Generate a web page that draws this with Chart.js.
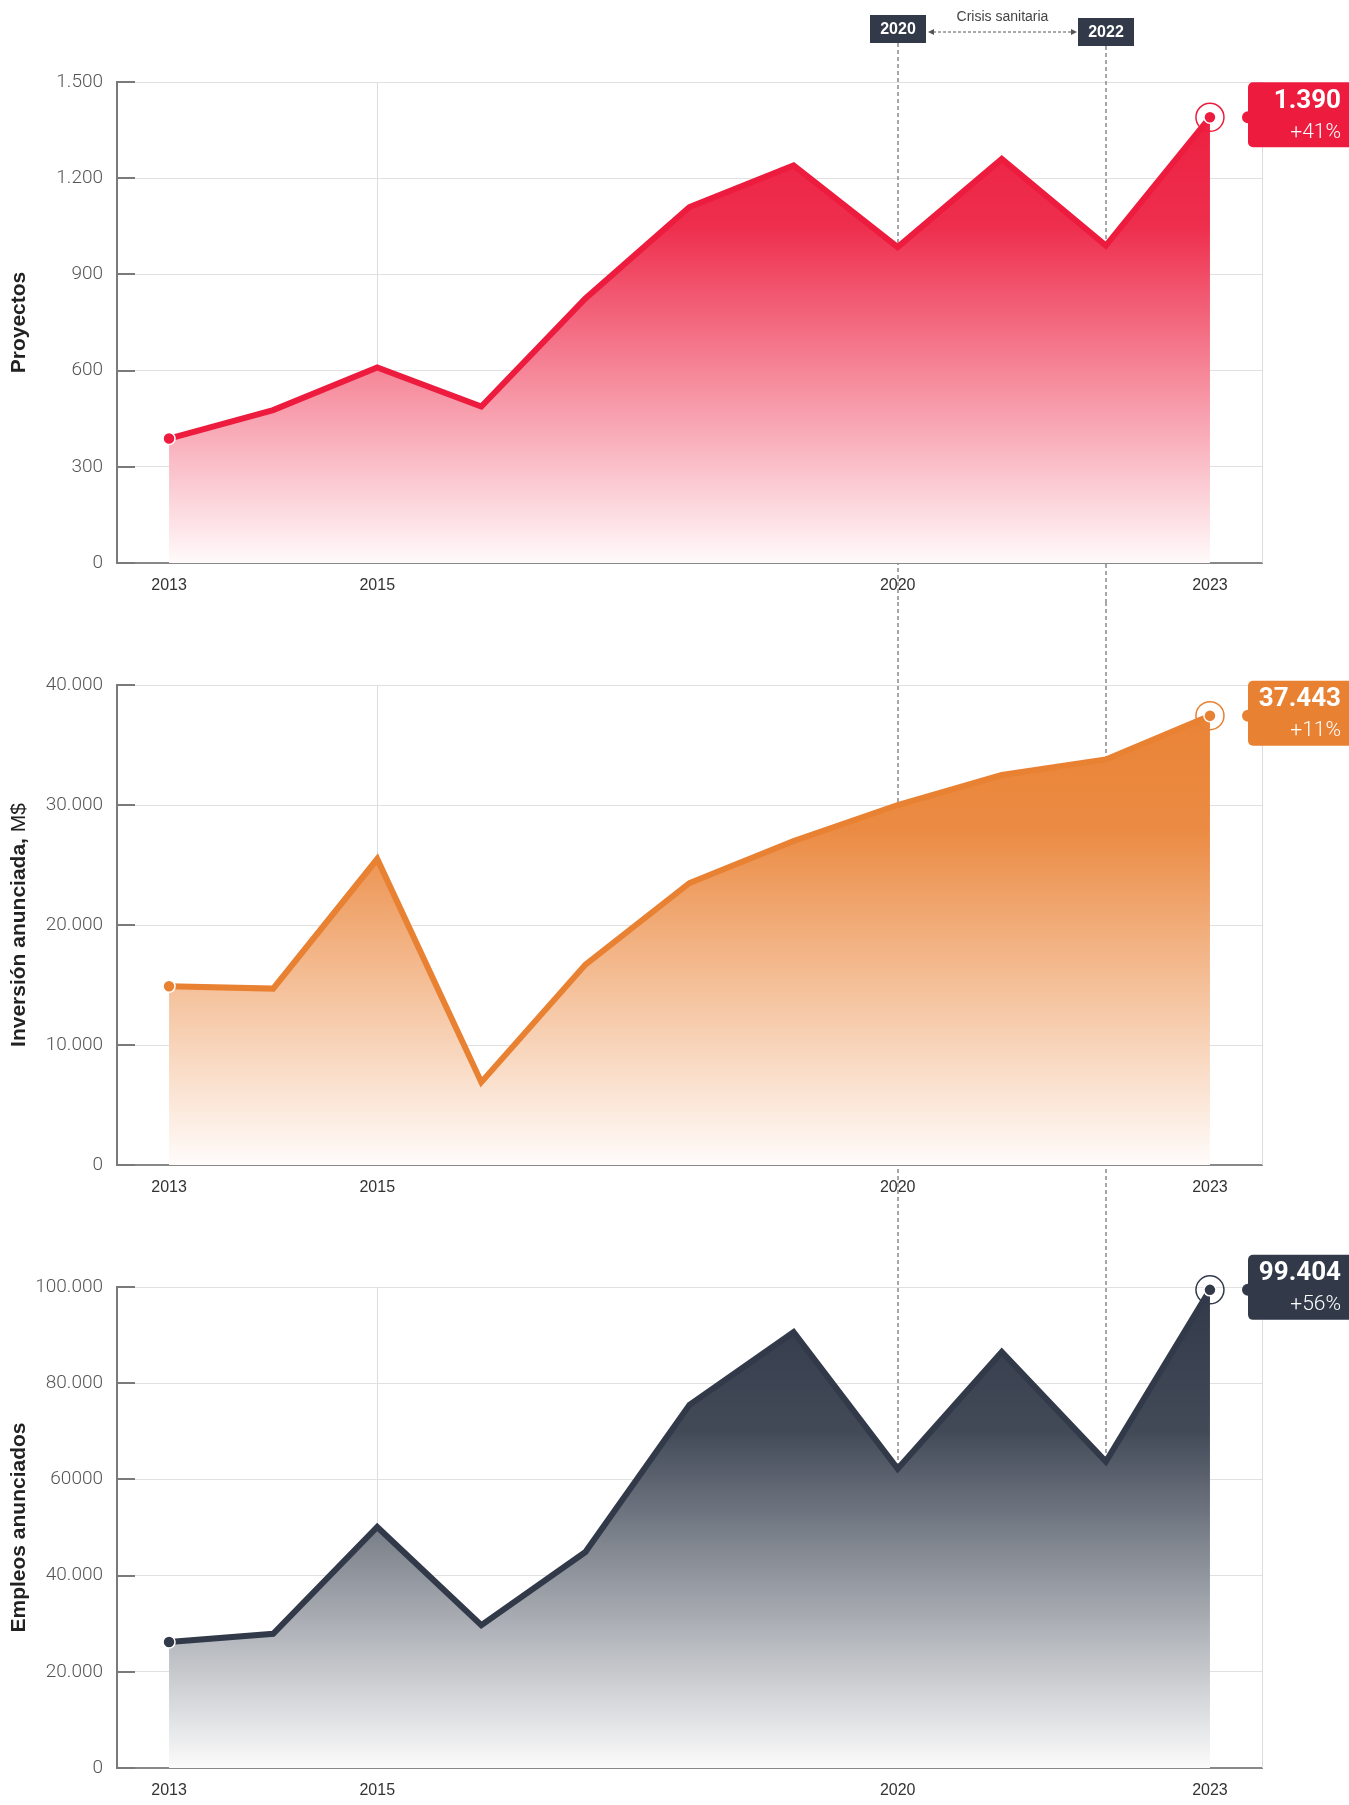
<!DOCTYPE html>
<html>
<head>
<meta charset="utf-8">
<script src="https://cdn.jsdelivr.net/npm/chart.js@4.4.1/dist/chart.umd.min.js"></script>
<style>
  html, body { margin: 0; padding: 0; background: #fff; }
  #wrap { position: relative; width: 1349px; height: 1805px; }
  canvas { position: absolute; left: 0; }
</style>
</head>
<body>
<div id="wrap">
  <canvas id="c1" width="1349" height="602" style="top:0"></canvas>
  <canvas id="c2" width="1349" height="602" style="top:602px"></canvas>
  <canvas id="c3" width="1349" height="601" style="top:1204px"></canvas>
</div>
<script>
// data
const years = [2013, 2014, 2015, 2016, 2017, 2018, 2019, 2020, 2021, 2022, 2023];
const proyectos = [388, 477, 610, 488, 825, 1110, 1240, 985, 1260, 990, 1390];
const inversion = [14900, 14700, 25500, 6900, 16700, 23500, 27000, 30000, 32500, 33800, 37443];
const empleos = [26200, 27900, 50100, 29700, 44900, 75500, 90600, 62200, 86500, 63700, 99404];

const xTickYears = [2013, 2015, 2020, 2023];
const crisisYears = [2020, 2022];
const crisisLabel = "Crisis sanitaria";

const proyectosTicks = ["0", "300", "600", "900", "1.200", "1.500"];
const inversionTicks = ["0", "10.000", "20.000", "30.000", "40.000"];
const empleosTicks = ["0", "20.000", "40.000", "60000", "80.000", "100.000"];

const lastValues = ["1.390", "37.443", "99.404"];
const lastChanges = ["+41%", "+11%", "+56%"];

const RED = [237, 28, 62];
const ORANGE = [233, 129, 51];
const DARK = [50, 58, 74];

function rgba(c, a) {
    return "rgba(" + c[0] + "," + c[1] + "," + c[2] + "," + a + ")";
}

// colour faded towards white, but opaque (so grid and dashes stay hidden under the area)
function tint(c, a) {
    const m = c.map(function (v) { return Math.round(255 - (255 - v) * a); });
    return "rgb(" + m[0] + "," + m[1] + "," + m[2] + ")";
}

const panelPlugin = {
    id: "panel",
    beforeDatasetsDraw(chart, args, opts) {
        const ctx = chart.ctx;
        const area = chart.chartArea;
        const x = chart.scales.x;
        ctx.save();
        // right border
        ctx.strokeStyle = "#dcdcdc";
        ctx.lineWidth = 1;
        ctx.beginPath();
        ctx.moveTo(area.right + 0.5, area.top);
        ctx.lineTo(area.right + 0.5, area.bottom);
        ctx.stroke();
        // crisis period lines
        ctx.strokeStyle = "#8a8a8a";
        ctx.lineWidth = 1.5;
        ctx.setLineDash([4, 3]);
        crisisYears.forEach(function (yr, k) {
            const px = Math.round(x.getPixelForValue(yr));
            const y0 = opts.header ? [43, 46][k] : 0;
            const y1 = opts.last ? area.bottom : chart.height;
            ctx.beginPath();
            ctx.moveTo(px, y0);
            ctx.lineTo(px, y1);
            ctx.stroke();
        });
        ctx.restore();
    },
    afterDraw(chart, args, opts) {
        const ctx = chart.ctx;
        const area = chart.chartArea;
        const x = chart.scales.x;
        const y = chart.scales.y;
        ctx.save();

        // inner tick marks on the y axis
        ctx.strokeStyle = "#7a7a7a";
        ctx.lineWidth = 2;
        y.ticks.forEach(function (t) {
            const py = Math.round(y.getPixelForValue(t.value));
            ctx.beginPath();
            ctx.moveTo(area.left, py);
            ctx.lineTo(area.left + 18, py);
            ctx.stroke();
        });

        // side title
        ctx.save();
        ctx.translate(19, (area.top + area.bottom) / 2);
        ctx.rotate(-Math.PI / 2);
        ctx.textBaseline = "middle";
        ctx.fillStyle = "#222";
        ctx.font = "bold 21px 'Liberation Sans', Arial, sans-serif";
        const w1 = ctx.measureText(opts.title[0]).width;
        ctx.font = "21px 'Liberation Sans', Arial, sans-serif";
        const w2 = opts.title[1] ? ctx.measureText(opts.title[1]).width : 0;
        const sx = -(w1 + w2) / 2;
        ctx.textAlign = "left";
        ctx.font = "bold 21px 'Liberation Sans', Arial, sans-serif";
        ctx.fillText(opts.title[0], sx, 0);
        if (opts.title[1]) {
            ctx.font = "21px 'Liberation Sans', Arial, sans-serif";
            ctx.fillText(opts.title[1], sx + w1, 0);
        }
        ctx.restore();

        // ring around the last point
        const meta = chart.getDatasetMeta(0);
        const pt = meta.data[meta.data.length - 1];
        ctx.strokeStyle = rgba(opts.color, 1);
        ctx.lineWidth = 1.5;
        ctx.beginPath();
        ctx.arc(pt.x, pt.y, 14, 0, Math.PI * 2);
        ctx.stroke();

        // value box
        const bx = 1248, by = pt.y - 35, bw = 130, bh = 65;
        ctx.fillStyle = rgba(opts.color, 1);
        ctx.beginPath();
        ctx.roundRect(bx, by, bw, bh, 5);
        ctx.fill();
        ctx.beginPath();
        ctx.arc(bx, pt.y, 6, 0, Math.PI * 2);
        ctx.fill();
        ctx.fillStyle = "#fff";
        ctx.textAlign = "right";
        ctx.textBaseline = "middle";
        ctx.font = "bold 26px Roboto, sans-serif";
        ctx.fillText(opts.value, 1341, by + 19);
        ctx.font = "300 21px Roboto, sans-serif";
        ctx.fillText(opts.change, 1341, by + 50);

        // crisis header
        if (opts.header) {
            const pxs = crisisYears.map(function (yr) { return Math.round(x.getPixelForValue(yr)); });
            const tops = [15, 18];
            ctx.textAlign = "center";
            ctx.font = "bold 16px 'Liberation Sans', Arial, sans-serif";
            pxs.forEach(function (px, k) {
                ctx.fillStyle = "#323a4a";
                ctx.fillRect(px - 28, tops[k], 56, 28);
                ctx.fillStyle = "#fff";
                ctx.fillText(String(crisisYears[k]), px, tops[k] + 15);
            });
            const ax0 = pxs[0] + 30, ax1 = pxs[1] - 29, ay = 32;
            ctx.strokeStyle = "#555";
            ctx.lineWidth = 1;
            ctx.setLineDash([3, 2]);
            ctx.beginPath();
            ctx.moveTo(ax0 + 5, ay);
            ctx.lineTo(ax1 - 5, ay);
            ctx.stroke();
            ctx.setLineDash([]);
            ctx.fillStyle = "#555";
            ctx.beginPath();
            ctx.moveTo(ax0, ay);
            ctx.lineTo(ax0 + 6, ay - 3);
            ctx.lineTo(ax0 + 6, ay + 3);
            ctx.closePath();
            ctx.fill();
            ctx.beginPath();
            ctx.moveTo(ax1, ay);
            ctx.lineTo(ax1 - 6, ay - 3);
            ctx.lineTo(ax1 - 6, ay + 3);
            ctx.closePath();
            ctx.fill();
            ctx.fillStyle = "#444";
            ctx.font = "14px 'Liberation Sans', Arial, sans-serif";
            ctx.fillText(crisisLabel, (ax0 + ax1) / 2, 17);
        }
        ctx.restore();
    }
};

function makeChart(id, values, color, max, step, tickLabels, idx, xHeight) {
    const n = values.length;
    return new Chart(document.getElementById(id), {
        type: "line",
        data: {
            datasets: [
                {
                    data: years.map(function (yr, i) { return { x: yr, y: values[i] }; }),
                    borderColor: rgba(color, 1),
                    borderWidth: 6,
                    tension: 0,
                    clip: false,
                    fill: "origin",
                    backgroundColor: function (c) {
                        const area = c.chart.chartArea;
                        if (!area) return tint(color, 0.5);
                        const g = c.chart.ctx.createLinearGradient(0, area.top, 0, area.bottom);
                        g.addColorStop(0, tint(color, 1));
                        g.addColorStop(0.3, tint(color, 0.92));
                        g.addColorStop(1, tint(color, 0.02));
                        return g;
                    },
                    pointRadius: function (c) { return (c.dataIndex === 0 || c.dataIndex === n - 1) ? 6 : 0; },
                    pointBackgroundColor: rgba(color, 1),
                    pointBorderColor: "#fff",
                    pointBorderWidth: 1.5,
                },
            ],
        },
        options: {
            responsive: false,
            animation: false,
            events: [],
            layout: {
                padding: { left: 0, right: 87, top: 83 - (idx === 0 ? 1 : 0), bottom: 0 },
            },
            scales: {
                x: {
                    type: "linear",
                    min: 2012.5,
                    max: 2023.5,
                    afterBuildTicks: function (s) { s.ticks = xTickYears.map(function (v) { return { value: v }; }); },
                    afterFit: function (s) { s.height = xHeight; },
                    border: { color: "#888", width: 2 },
                    grid: {
                        drawTicks: false,
                        color: function (c) { return c.tick && c.tick.value === 2015 ? "#dcdcdc" : "rgba(0,0,0,0)"; },
                    },
                    ticks: {
                        padding: 13,
                        color: "#333",
                        font: { family: "'Liberation Sans', Arial, sans-serif", size: 16 },
                        callback: function (v) { return String(v); },
                    },
                },
                y: {
                    min: 0,
                    max: max,
                    afterFit: function (s) { s.width = 117; },
                    border: { color: "#7a7a7a", width: 2 },
                    grid: { drawTicks: false, color: "#e0e0e0" },
                    ticks: {
                        stepSize: step,
                        padding: 14,
                        color: "#555",
                        font: { family: "Roboto", size: 19, weight: "300" },
                        callback: function (v, i) { return tickLabels[i]; },
                    },
                },
            },
            plugins: {
                legend: { display: false },
                tooltip: { enabled: false },
                panel: {
                    color: color,
                    value: lastValues[idx],
                    change: lastChanges[idx],
                    header: idx === 0,
                    last: idx === 2,
                    title: [
                        ["Proyectos", ""],
                        ["Inversión anunciada,", " M$"],
                        ["Empleos anunciados", ""],
                    ][idx],
                },
            },
        },
        plugins: [panelPlugin],
    });
}

makeChart("c1", proyectos, RED, 1500, 300, proyectosTicks, 0, 39);
makeChart("c2", inversion, ORANGE, 40000, 10000, inversionTicks, 1, 39);
makeChart("c3", empleos, DARK, 100000, 20000, empleosTicks, 2, 37);
</script>
</body>
</html>
